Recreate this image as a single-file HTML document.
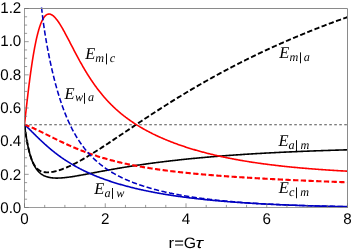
<!DOCTYPE html>
<html><head><meta charset="utf-8"><title>plot</title>
<style>
html,body{margin:0;padding:0;background:#fff;}
body{width:353px;height:251px;position:relative;overflow:hidden;font-family:"Liberation Sans",sans-serif;}
svg{position:absolute;left:0;top:0;display:block;will-change:transform;}
text{text-rendering:geometricPrecision;}
</style>
</head><body>
<svg width="353" height="251" viewBox="0 0 353 251">
<defs><clipPath id="c"><rect x="24.5" y="7.0" width="323.0" height="200.6"/></clipPath></defs>
<line x1="25.1" y1="124.75" x2="347.5" y2="124.75" stroke="#505050" stroke-width="1.1" stroke-dasharray="2.6 2.4" stroke-dashoffset="0.85"/>
<g clip-path="url(#c)" fill="none" stroke-linejoin="round">
<path d="M24.50,124.58 L24.60,125.39 L24.70,126.18 L24.80,126.96 L24.90,127.73 L25.00,128.49 L25.11,129.24 L25.21,129.97 L25.31,130.69 L25.41,131.40 L25.51,132.10 L25.61,132.79 L25.71,133.47 L25.81,134.14 L25.91,134.79 L26.01,135.44 L26.11,136.08 L26.22,136.71 L26.32,137.32 L26.42,137.93 L26.52,138.53 L26.62,139.12 L26.72,139.70 L26.82,140.27 L26.92,140.83 L27.02,141.39 L27.12,141.93 L27.23,142.47 L27.33,143.00 L27.43,143.52 L27.53,144.03 L27.63,144.54 L27.73,145.04 L27.83,145.53 L28.03,146.48 L28.23,147.41 L28.44,148.31 L28.64,149.19 L28.84,150.04 L29.04,150.86 L29.24,151.66 L29.45,152.44 L29.65,153.19 L29.85,153.92 L30.05,154.63 L30.25,155.32 L30.46,155.98 L30.66,156.63 L30.86,157.26 L31.06,157.87 L31.26,158.47 L31.46,159.04 L31.67,159.61 L31.87,160.15 L32.07,160.68 L32.27,161.19 L32.47,161.69 L32.68,162.17 L32.88,162.65 L33.08,163.10 L33.38,163.77 L33.69,164.40 L33.99,165.01 L34.29,165.59 L34.59,166.15 L34.90,166.68 L35.20,167.20 L35.50,167.69 L35.80,168.16 L36.11,168.61 L36.41,169.05 L36.71,169.46 L37.02,169.86 L37.42,170.37 L37.82,170.85 L38.23,171.30 L38.63,171.73 L39.03,172.13 L39.44,172.52 L39.84,172.88 L40.25,173.22 L40.65,173.55 L41.05,173.86 L41.56,174.22 L42.06,174.55 L42.57,174.86 L43.07,175.16 L43.58,175.43 L44.08,175.68 L44.59,175.91 L45.09,176.13 L45.60,176.33 L46.10,176.52 L46.61,176.69 L47.11,176.85 L47.61,177.00 L48.12,177.13 L48.62,177.26 L49.13,177.37 L49.63,177.47 L50.14,177.56 L50.64,177.65 L51.15,177.72 L51.65,177.79 L52.16,177.85 L52.66,177.90 L53.17,177.95 L53.67,177.98 L54.18,178.02 L54.68,178.04 L55.19,178.06 L55.69,178.08 L56.19,178.08 L56.70,178.09 L57.20,178.09 L57.71,178.08 L58.21,178.07 L58.72,178.06 L59.22,178.04 L59.73,178.02 L60.23,177.99 L60.74,177.97 L61.24,177.93 L61.75,177.90 L62.25,177.86 L62.76,177.82 L63.26,177.77 L63.76,177.73 L64.27,177.68 L64.77,177.63 L65.28,177.57 L66.09,177.48 L66.89,177.39 L67.70,177.29 L68.51,177.18 L69.32,177.07 L70.12,176.96 L70.93,176.84 L71.74,176.72 L72.55,176.59 L73.35,176.47 L74.16,176.34 L74.97,176.21 L75.78,176.07 L76.58,175.93 L77.39,175.80 L78.20,175.66 L79.01,175.51 L79.81,175.37 L80.62,175.23 L81.43,175.08 L82.24,174.93 L83.04,174.79 L83.85,174.64 L84.66,174.49 L85.47,174.34 L86.27,174.19 L87.08,174.03 L87.89,173.88 L88.70,173.73 L89.50,173.58 L90.31,173.42 L91.12,173.27 L91.93,173.12 L92.73,172.97 L93.54,172.81 L94.35,172.66 L95.16,172.51 L95.96,172.35 L96.77,172.20 L97.58,172.05 L98.39,171.90 L99.19,171.75 L100.00,171.59 L100.81,171.44 L101.62,171.29 L102.42,171.14 L103.23,170.99 L104.04,170.84 L104.85,170.70 L105.65,170.55 L106.46,170.40 L107.27,170.25 L108.08,170.11 L108.88,169.96 L109.69,169.82 L110.50,169.67 L111.31,169.53 L112.11,169.38 L112.92,169.24 L113.73,169.10 L114.54,168.96 L115.34,168.82 L116.15,168.68 L116.96,168.54 L117.77,168.40 L118.57,168.26 L119.38,168.12 L120.19,167.99 L121.00,167.85 L121.80,167.71 L122.61,167.58 L123.42,167.45 L124.23,167.31 L125.03,167.18 L125.84,167.05 L126.65,166.92 L127.46,166.79 L128.26,166.66 L129.07,166.53 L129.88,166.40 L130.69,166.28 L131.49,166.15 L132.30,166.02 L133.11,165.90 L133.92,165.77 L134.72,165.65 L135.53,165.53 L136.34,165.41 L137.15,165.28 L137.95,165.16 L138.76,165.04 L139.57,164.93 L140.38,164.81 L141.18,164.69 L141.99,164.57 L142.80,164.46 L143.61,164.34 L144.41,164.22 L145.22,164.11 L146.03,164.00 L146.84,163.88 L147.64,163.77 L148.45,163.66 L149.26,163.55 L150.07,163.44 L150.87,163.33 L151.68,163.22 L152.49,163.11 L153.30,163.01 L154.10,162.90 L154.91,162.79 L155.72,162.69 L156.53,162.58 L157.33,162.48 L158.14,162.38 L158.95,162.27 L159.76,162.17 L160.56,162.07 L161.37,161.97 L162.18,161.87 L162.99,161.77 L163.79,161.67 L164.60,161.57 L165.41,161.47 L166.22,161.38 L167.02,161.28 L167.83,161.18 L168.64,161.09 L169.45,160.99 L170.25,160.90 L171.06,160.81 L171.87,160.71 L172.68,160.62 L173.48,160.53 L174.29,160.44 L175.10,160.35 L175.91,160.26 L176.71,160.17 L177.52,160.08 L178.33,159.99 L179.14,159.90 L179.94,159.82 L180.75,159.73 L181.56,159.64 L182.37,159.56 L183.17,159.47 L183.98,159.39 L184.79,159.30 L185.60,159.22 L186.40,159.14 L187.21,159.05 L188.02,158.97 L188.83,158.89 L189.63,158.81 L190.44,158.73 L191.25,158.65 L192.06,158.57 L192.86,158.49 L193.67,158.41 L194.48,158.34 L195.29,158.26 L196.09,158.18 L196.90,158.11 L197.71,158.03 L198.52,157.95 L199.32,157.88 L200.13,157.81 L200.94,157.73 L201.75,157.66 L202.55,157.59 L203.36,157.51 L204.17,157.44 L204.98,157.37 L205.78,157.30 L206.59,157.23 L207.40,157.16 L208.21,157.09 L209.01,157.02 L209.82,156.95 L210.63,156.88 L211.44,156.81 L212.24,156.74 L213.05,156.68 L213.86,156.61 L214.67,156.54 L215.47,156.48 L216.28,156.41 L217.09,156.35 L217.90,156.28 L218.70,156.22 L219.51,156.16 L220.32,156.09 L221.13,156.03 L221.93,155.97 L222.74,155.90 L223.55,155.84 L224.36,155.78 L225.16,155.72 L225.97,155.66 L226.78,155.60 L227.59,155.54 L228.39,155.48 L229.20,155.42 L230.01,155.36 L230.82,155.30 L231.62,155.24 L232.43,155.19 L233.24,155.13 L234.05,155.07 L234.85,155.02 L235.66,154.96 L236.47,154.90 L237.28,154.85 L238.08,154.79 L238.89,154.74 L239.70,154.68 L240.51,154.63 L241.31,154.58 L242.12,154.52 L242.93,154.47 L243.74,154.42 L244.54,154.37 L245.35,154.31 L246.16,154.26 L246.97,154.21 L247.77,154.16 L248.58,154.11 L249.39,154.06 L250.20,154.01 L251.00,153.96 L251.81,153.91 L252.62,153.86 L253.43,153.81 L254.23,153.76 L255.04,153.71 L255.85,153.67 L256.66,153.62 L257.46,153.57 L258.27,153.52 L259.08,153.48 L259.89,153.43 L260.69,153.39 L261.50,153.34 L262.31,153.29 L263.12,153.25 L263.92,153.20 L264.73,153.16 L265.54,153.12 L266.35,153.07 L267.15,153.03 L267.96,152.98 L268.77,152.94 L269.58,152.90 L270.38,152.85 L271.19,152.81 L272.00,152.77 L272.81,152.73 L273.61,152.69 L274.42,152.65 L275.23,152.60 L276.04,152.56 L276.84,152.52 L277.65,152.48 L278.46,152.44 L279.27,152.40 L280.07,152.36 L280.88,152.32 L281.69,152.28 L282.50,152.25 L283.30,152.21 L284.11,152.17 L284.92,152.13 L285.73,152.09 L286.53,152.06 L287.34,152.02 L288.15,151.98 L288.96,151.94 L289.76,151.91 L290.57,151.87 L291.38,151.84 L292.19,151.80 L292.99,151.76 L293.80,151.73 L294.61,151.69 L295.42,151.66 L296.22,151.62 L297.03,151.59 L297.84,151.55 L298.65,151.52 L299.45,151.49 L300.26,151.45 L301.07,151.42 L301.88,151.39 L302.68,151.35 L303.49,151.32 L304.30,151.29 L305.11,151.25 L305.91,151.22 L306.72,151.19 L307.53,151.16 L308.34,151.13 L309.14,151.10 L309.95,151.06 L310.76,151.03 L311.57,151.00 L312.37,150.97 L313.18,150.94 L313.99,150.91 L314.80,150.88 L315.60,150.85 L316.41,150.82 L317.22,150.79 L318.03,150.76 L318.83,150.73 L319.64,150.71 L320.45,150.68 L321.26,150.65 L322.06,150.62 L322.87,150.59 L323.68,150.56 L324.49,150.54 L325.29,150.51 L326.10,150.48 L326.91,150.45 L327.72,150.43 L328.52,150.40 L329.33,150.37 L330.14,150.35 L330.95,150.32 L331.75,150.29 L332.56,150.27 L333.37,150.24 L334.18,150.22 L334.98,150.19 L335.79,150.16 L336.60,150.14 L337.41,150.11 L338.21,150.09 L339.02,150.06 L339.83,150.04 L340.64,150.01 L341.44,149.99 L342.25,149.97 L343.06,149.94 L343.87,149.92 L344.67,149.89 L345.48,149.87 L346.29,149.85 L347.10,149.82 L347.50,149.81" stroke="#000000" stroke-width="1.6"/>
<path d="M24.50,124.58 L24.60,125.39 L24.70,126.18 L24.80,126.96 L24.90,127.73 L25.00,128.49 L25.11,129.24 L25.21,129.97 L25.31,130.69 L25.41,131.40 L25.51,132.10 L25.61,132.79 L25.71,133.47 L25.81,134.14 L25.91,134.79 L26.01,135.44 L26.11,136.08 L26.22,136.71 L26.32,137.32 L26.42,137.93 L26.52,138.53 L26.62,139.12 L26.72,139.70 L26.82,140.27 L26.92,140.83 L27.02,141.39 L27.12,141.93 L27.23,142.47 L27.33,143.00 L27.43,143.52 L27.53,144.03 L27.63,144.54 L27.73,145.04 L27.83,145.53 L28.03,146.48 L28.23,147.41 L28.44,148.31 L28.64,149.19 L28.84,150.04 L29.04,150.86 L29.24,151.66 L29.45,152.44 L29.65,153.18 L29.85,153.91 L30.05,154.61 L30.25,155.29 L30.46,155.94 L30.66,156.58 L30.86,157.20 L31.06,157.80 L31.26,158.38 L31.46,158.94 L31.67,159.48 L31.87,160.01 L32.07,160.52 L32.27,161.01 L32.47,161.48 L32.78,162.16 L33.08,162.80 L33.38,163.39 L33.69,163.96 L33.99,164.49 L34.29,164.98 L34.59,165.45 L34.90,165.89 L35.20,166.31 L35.50,166.71 L35.91,167.22 L36.31,167.70 L36.71,168.14 L37.12,168.55 L37.52,168.93 L37.92,169.28 L38.33,169.60 L38.73,169.90 L39.24,170.24 L39.74,170.54 L40.25,170.82 L40.75,171.06 L41.26,171.28 L41.76,171.47 L42.27,171.64 L42.77,171.79 L43.27,171.91 L43.78,172.02 L44.28,172.12 L44.79,172.19 L45.29,172.25 L45.80,172.30 L46.30,172.33 L46.81,172.35 L47.31,172.36 L47.82,172.36 L48.32,172.35 L48.83,172.32 L49.33,172.29 L49.84,172.25 L50.34,172.20 L50.84,172.14 L51.35,172.08 L51.85,172.00 L52.36,171.92 L52.86,171.83 L53.37,171.74 L53.87,171.64 L54.38,171.53 L54.88,171.42 L55.39,171.30 L55.89,171.17 L56.40,171.04 L56.90,170.91 L57.41,170.77 L57.91,170.62 L58.41,170.47 L58.92,170.32 L59.42,170.16 L59.93,169.99 L60.43,169.82 L60.94,169.65 L61.44,169.48 L61.95,169.30 L62.45,169.11 L62.96,168.92 L63.46,168.73 L63.97,168.54 L64.47,168.34 L65.28,168.01 L66.09,167.68 L66.89,167.33 L67.70,166.98 L68.51,166.63 L69.32,166.26 L70.12,165.89 L70.93,165.51 L71.74,165.12 L72.55,164.73 L73.35,164.33 L74.16,163.92 L74.97,163.51 L75.78,163.10 L76.58,162.67 L77.39,162.25 L78.20,161.81 L79.01,161.37 L79.81,160.93 L80.62,160.48 L81.43,160.03 L82.24,159.58 L83.04,159.12 L83.85,158.65 L84.66,158.18 L85.47,157.71 L86.27,157.23 L87.08,156.76 L87.89,156.27 L88.70,155.79 L89.50,155.30 L90.31,154.81 L91.12,154.31 L91.93,153.81 L92.73,153.31 L93.54,152.81 L94.35,152.30 L95.16,151.80 L95.96,151.29 L96.77,150.77 L97.58,150.26 L98.39,149.74 L99.19,149.23 L100.00,148.71 L100.81,148.18 L101.62,147.66 L102.42,147.14 L103.23,146.61 L104.04,146.08 L104.85,145.55 L105.65,145.02 L106.46,144.49 L107.27,143.96 L108.08,143.42 L108.88,142.89 L109.69,142.35 L110.50,141.82 L111.31,141.28 L112.11,140.74 L112.92,140.20 L113.73,139.66 L114.54,139.12 L115.34,138.58 L116.15,138.04 L116.96,137.50 L117.77,136.96 L118.57,136.41 L119.38,135.87 L120.19,135.33 L121.00,134.79 L121.80,134.24 L122.61,133.70 L123.42,133.16 L124.23,132.61 L125.03,132.07 L125.84,131.53 L126.65,130.98 L127.46,130.44 L128.26,129.90 L129.07,129.35 L129.88,128.81 L130.69,128.27 L131.49,127.73 L132.30,127.18 L133.11,126.64 L133.92,126.10 L134.72,125.56 L135.53,125.02 L136.34,124.48 L137.15,123.94 L137.95,123.40 L138.76,122.86 L139.57,122.33 L140.38,121.79 L141.18,121.25 L141.99,120.71 L142.80,120.18 L143.61,119.64 L144.41,119.11 L145.22,118.57 L146.03,118.04 L146.84,117.51 L147.64,116.98 L148.45,116.45 L149.26,115.92 L150.07,115.39 L150.87,114.86 L151.68,114.33 L152.49,113.80 L153.30,113.28 L154.10,112.75 L154.91,112.23 L155.72,111.70 L156.53,111.18 L157.33,110.66 L158.14,110.14 L158.95,109.62 L159.76,109.10 L160.56,108.58 L161.37,108.06 L162.18,107.54 L162.99,107.03 L163.79,106.51 L164.60,106.00 L165.41,105.49 L166.22,104.98 L167.02,104.47 L167.83,103.96 L168.64,103.45 L169.45,102.94 L170.25,102.43 L171.06,101.93 L171.87,101.42 L172.68,100.92 L173.48,100.42 L174.29,99.92 L175.10,99.42 L175.91,98.92 L176.71,98.42 L177.52,97.92 L178.33,97.43 L179.14,96.93 L179.94,96.44 L180.75,95.94 L181.56,95.45 L182.37,94.96 L183.17,94.47 L183.98,93.98 L184.79,93.50 L185.60,93.01 L186.40,92.53 L187.21,92.04 L188.02,91.56 L188.83,91.08 L189.63,90.60 L190.44,90.12 L191.25,89.64 L192.06,89.16 L192.86,88.69 L193.67,88.21 L194.48,87.74 L195.29,87.26 L196.09,86.79 L196.90,86.32 L197.71,85.85 L198.52,85.39 L199.32,84.92 L200.13,84.45 L200.94,83.99 L201.75,83.52 L202.55,83.06 L203.36,82.60 L204.17,82.14 L204.98,81.68 L205.78,81.22 L206.59,80.77 L207.40,80.31 L208.21,79.86 L209.01,79.40 L209.82,78.95 L210.63,78.50 L211.44,78.05 L212.24,77.60 L213.05,77.15 L213.86,76.71 L214.67,76.26 L215.47,75.82 L216.28,75.38 L217.09,74.93 L217.90,74.49 L218.70,74.05 L219.51,73.62 L220.32,73.18 L221.13,72.74 L221.93,72.31 L222.74,71.87 L223.55,71.44 L224.36,71.01 L225.16,70.58 L225.97,70.15 L226.78,69.72 L227.59,69.29 L228.39,68.87 L229.20,68.44 L230.01,68.02 L230.82,67.59 L231.62,67.17 L232.43,66.75 L233.24,66.33 L234.05,65.91 L234.85,65.50 L235.66,65.08 L236.47,64.67 L237.28,64.25 L238.08,63.84 L238.89,63.43 L239.70,63.02 L240.51,62.61 L241.31,62.20 L242.12,61.79 L242.93,61.38 L243.74,60.98 L244.54,60.58 L245.35,60.17 L246.16,59.77 L246.97,59.37 L247.77,58.97 L248.58,58.57 L249.39,58.17 L250.20,57.78 L251.00,57.38 L251.81,56.99 L252.62,56.59 L253.43,56.20 L254.23,55.81 L255.04,55.42 L255.85,55.03 L256.66,54.64 L257.46,54.25 L258.27,53.87 L259.08,53.48 L259.89,53.10 L260.69,52.72 L261.50,52.33 L262.31,51.95 L263.12,51.57 L263.92,51.19 L264.73,50.82 L265.54,50.44 L266.35,50.06 L267.15,49.69 L267.96,49.32 L268.77,48.94 L269.58,48.57 L270.38,48.20 L271.19,47.83 L272.00,47.46 L272.81,47.09 L273.61,46.73 L274.42,46.36 L275.23,46.00 L276.04,45.63 L276.84,45.27 L277.65,44.91 L278.46,44.55 L279.27,44.19 L280.07,43.83 L280.88,43.47 L281.69,43.12 L282.50,42.76 L283.30,42.41 L284.11,42.05 L284.92,41.70 L285.73,41.35 L286.53,41.00 L287.34,40.65 L288.15,40.30 L288.96,39.95 L289.76,39.60 L290.57,39.25 L291.38,38.91 L292.19,38.57 L292.99,38.22 L293.80,37.88 L294.61,37.54 L295.42,37.20 L296.22,36.86 L297.03,36.52 L297.84,36.18 L298.65,35.84 L299.45,35.51 L300.26,35.17 L301.07,34.84 L301.88,34.51 L302.68,34.17 L303.49,33.84 L304.30,33.51 L305.11,33.18 L305.91,32.85 L306.72,32.53 L307.53,32.20 L308.34,31.87 L309.14,31.55 L309.95,31.22 L310.76,30.90 L311.57,30.58 L312.37,30.26 L313.18,29.94 L313.99,29.62 L314.80,29.30 L315.60,28.98 L316.41,28.66 L317.22,28.35 L318.03,28.03 L318.83,27.72 L319.64,27.40 L320.45,27.09 L321.26,26.78 L322.06,26.47 L322.87,26.16 L323.68,25.85 L324.49,25.54 L325.29,25.23 L326.10,24.93 L326.91,24.62 L327.72,24.32 L328.52,24.01 L329.33,23.71 L330.14,23.41 L330.95,23.10 L331.75,22.80 L332.56,22.50 L333.37,22.20 L334.18,21.90 L334.98,21.61 L335.79,21.31 L336.60,21.01 L337.41,20.72 L338.21,20.43 L339.02,20.13 L339.83,19.84 L340.64,19.55 L341.44,19.26 L342.25,18.97 L343.06,18.68 L343.87,18.39 L344.67,18.10 L345.48,17.81 L346.29,17.53 L347.10,17.24 L347.50,17.10" stroke="#000000" stroke-width="1.9" stroke-dasharray="5.3 2.4"/>
<path d="M24.50,124.58 L24.60,123.65 L24.70,122.71 L24.80,121.78 L24.90,120.84 L25.00,119.91 L25.11,118.99 L25.21,118.06 L25.31,117.13 L25.41,116.21 L25.51,115.29 L25.61,114.37 L25.71,113.45 L25.81,112.54 L25.91,111.63 L26.01,110.72 L26.11,109.81 L26.22,108.91 L26.32,108.01 L26.42,107.11 L26.52,106.21 L26.62,105.32 L26.72,104.43 L26.82,103.55 L26.92,102.66 L27.02,101.78 L27.12,100.91 L27.23,100.03 L27.33,99.16 L27.43,98.30 L27.53,97.43 L27.63,96.58 L27.73,95.72 L27.83,94.87 L27.93,94.02 L28.03,93.18 L28.13,92.34 L28.23,91.50 L28.34,90.67 L28.44,89.84 L28.54,89.01 L28.64,88.19 L28.74,87.38 L28.84,86.57 L28.94,85.76 L29.04,84.95 L29.14,84.15 L29.24,83.36 L29.34,82.57 L29.45,81.78 L29.55,81.00 L29.65,80.22 L29.75,79.45 L29.85,78.68 L29.95,77.92 L30.05,77.16 L30.15,76.40 L30.25,75.65 L30.35,74.91 L30.46,74.17 L30.56,73.43 L30.66,72.70 L30.76,71.97 L30.86,71.25 L30.96,70.53 L31.06,69.82 L31.16,69.11 L31.26,68.41 L31.36,67.71 L31.46,67.02 L31.57,66.33 L31.67,65.64 L31.77,64.96 L31.87,64.29 L31.97,63.62 L32.07,62.96 L32.17,62.30 L32.27,61.64 L32.37,60.99 L32.47,60.35 L32.58,59.71 L32.68,59.07 L32.78,58.44 L32.88,57.82 L32.98,57.20 L33.08,56.58 L33.18,55.97 L33.28,55.37 L33.38,54.77 L33.48,54.17 L33.58,53.58 L33.69,53.00 L33.79,52.41 L33.89,51.84 L33.99,51.27 L34.09,50.70 L34.19,50.14 L34.29,49.59 L34.39,49.03 L34.49,48.49 L34.59,47.95 L34.69,47.41 L34.80,46.88 L34.90,46.35 L35.00,45.83 L35.10,45.32 L35.20,44.80 L35.30,44.30 L35.40,43.79 L35.50,43.30 L35.60,42.81 L35.80,41.84 L36.01,40.88 L36.21,39.95 L36.41,39.04 L36.61,38.15 L36.81,37.27 L37.02,36.42 L37.22,35.58 L37.42,34.76 L37.62,33.96 L37.82,33.18 L38.03,32.41 L38.23,31.67 L38.43,30.94 L38.63,30.23 L38.83,29.54 L39.03,28.87 L39.24,28.21 L39.44,27.57 L39.64,26.95 L39.84,26.34 L40.04,25.75 L40.25,25.18 L40.45,24.62 L40.65,24.08 L40.85,23.56 L41.05,23.05 L41.26,22.56 L41.46,22.09 L41.66,21.63 L41.96,20.97 L42.27,20.34 L42.57,19.75 L42.87,19.19 L43.17,18.66 L43.48,18.16 L43.78,17.70 L44.08,17.26 L44.38,16.86 L44.79,16.37 L45.19,15.93 L45.60,15.53 L46.00,15.19 L46.40,14.90 L46.91,14.59 L47.41,14.35 L47.92,14.19 L48.42,14.08 L48.93,14.04 L49.43,14.06 L49.94,14.13 L50.44,14.26 L50.95,14.44 L51.45,14.67 L51.95,14.95 L52.46,15.27 L52.96,15.64 L53.37,15.97 L53.77,16.32 L54.18,16.70 L54.58,17.10 L54.98,17.52 L55.39,17.96 L55.79,18.43 L56.19,18.92 L56.60,19.42 L57.00,19.95 L57.30,20.35 L57.61,20.76 L57.91,21.19 L58.21,21.62 L58.52,22.06 L58.82,22.51 L59.12,22.97 L59.42,23.43 L59.73,23.90 L60.03,24.38 L60.33,24.87 L60.64,25.36 L60.94,25.86 L61.24,26.36 L61.54,26.87 L61.85,27.39 L62.15,27.91 L62.45,28.43 L62.76,28.96 L63.06,29.50 L63.36,30.04 L63.66,30.58 L63.97,31.13 L64.27,31.68 L64.57,32.23 L64.88,32.79 L65.28,33.53 L65.68,34.29 L66.09,35.04 L66.49,35.80 L66.89,36.57 L67.30,37.33 L67.70,38.10 L68.11,38.87 L68.51,39.65 L68.91,40.43 L69.32,41.20 L69.72,41.98 L70.12,42.76 L70.53,43.54 L70.93,44.32 L71.33,45.10 L71.74,45.88 L72.14,46.66 L72.55,47.44 L72.95,48.21 L73.35,48.99 L73.76,49.76 L74.16,50.54 L74.56,51.31 L74.97,52.08 L75.37,52.84 L75.78,53.61 L76.18,54.37 L76.58,55.13 L76.99,55.88 L77.39,56.64 L77.80,57.39 L78.20,58.13 L78.60,58.88 L79.01,59.62 L79.41,60.35 L79.81,61.09 L80.22,61.81 L80.62,62.54 L81.03,63.26 L81.43,63.98 L81.83,64.69 L82.24,65.40 L82.64,66.10 L83.04,66.80 L83.45,67.50 L83.85,68.19 L84.25,68.88 L84.66,69.56 L85.06,70.24 L85.47,70.91 L85.87,71.58 L86.27,72.25 L86.68,72.91 L87.08,73.56 L87.48,74.21 L87.89,74.86 L88.29,75.50 L88.70,76.13 L89.10,76.77 L89.50,77.39 L89.91,78.02 L90.31,78.63 L90.72,79.25 L91.12,79.86 L91.52,80.46 L91.93,81.06 L92.33,81.65 L92.73,82.24 L93.14,82.83 L93.54,83.41 L93.94,83.98 L94.35,84.55 L94.75,85.12 L95.16,85.68 L95.56,86.24 L95.96,86.79 L96.37,87.34 L96.77,87.88 L97.17,88.42 L97.58,88.96 L97.98,89.49 L98.39,90.02 L98.79,90.54 L99.19,91.06 L99.60,91.57 L100.00,92.08 L100.41,92.58 L100.81,93.08 L101.21,93.58 L101.62,94.07 L102.02,94.56 L102.42,95.05 L102.83,95.53 L103.23,96.00 L103.64,96.47 L104.04,96.94 L104.44,97.41 L104.85,97.87 L105.25,98.33 L105.65,98.78 L106.06,99.23 L106.46,99.67 L106.86,100.12 L107.27,100.55 L107.67,100.99 L108.08,101.42 L108.48,101.85 L108.88,102.27 L109.29,102.69 L109.69,103.11 L110.09,103.52 L110.50,103.93 L110.90,104.34 L111.31,104.74 L111.71,105.15 L112.11,105.54 L112.52,105.94 L112.92,106.33 L113.33,106.72 L113.73,107.10 L114.13,107.48 L114.54,107.86 L114.94,108.24 L115.34,108.61 L115.75,108.98 L116.15,109.35 L116.56,109.71 L116.96,110.07 L117.36,110.43 L117.77,110.78 L118.17,111.14 L118.57,111.49 L118.98,111.84 L119.38,112.18 L119.79,112.52 L120.19,112.86 L120.59,113.20 L121.00,113.53 L121.40,113.87 L121.80,114.19 L122.21,114.52 L122.61,114.85 L123.02,115.17 L123.42,115.49 L123.82,115.81 L124.23,116.12 L124.63,116.43 L125.03,116.74 L125.44,117.05 L125.84,117.36 L126.25,117.66 L126.65,117.96 L127.05,118.26 L127.46,118.56 L127.86,118.86 L128.67,119.44 L129.48,120.02 L130.28,120.59 L131.09,121.15 L131.90,121.70 L132.70,122.24 L133.51,122.78 L134.32,123.31 L135.13,123.84 L135.94,124.35 L136.74,124.87 L137.55,125.37 L138.36,125.87 L139.16,126.36 L139.97,126.84 L140.78,127.32 L141.59,127.79 L142.39,128.26 L143.20,128.72 L144.01,129.18 L144.82,129.63 L145.62,130.08 L146.43,130.52 L147.24,130.95 L148.05,131.38 L148.86,131.80 L149.66,132.22 L150.47,132.64 L151.28,133.05 L152.09,133.45 L152.89,133.86 L153.70,134.25 L154.51,134.64 L155.31,135.03 L156.12,135.42 L156.93,135.80 L157.74,136.17 L158.54,136.54 L159.35,136.91 L160.16,137.27 L160.97,137.63 L161.78,137.99 L162.58,138.34 L163.39,138.69 L164.20,139.03 L165.00,139.37 L165.81,139.71 L166.62,140.05 L167.43,140.38 L168.24,140.70 L169.04,141.03 L169.85,141.35 L170.66,141.67 L171.47,141.98 L172.27,142.29 L173.08,142.60 L173.89,142.91 L174.70,143.21 L175.50,143.51 L176.31,143.80 L177.12,144.10 L177.93,144.39 L178.73,144.67 L179.54,144.96 L180.35,145.24 L181.16,145.52 L181.96,145.80 L182.77,146.07 L183.58,146.34 L184.38,146.61 L185.19,146.88 L186.00,147.14 L186.81,147.40 L187.62,147.66 L188.42,147.92 L189.23,148.17 L190.04,148.42 L190.84,148.67 L191.65,148.92 L192.46,149.16 L193.27,149.40 L194.08,149.64 L194.88,149.88 L195.69,150.12 L196.50,150.35 L197.31,150.58 L198.11,150.81 L198.92,151.04 L199.73,151.26 L200.53,151.48 L201.34,151.70 L202.15,151.92 L202.96,152.14 L203.76,152.35 L204.57,152.57 L205.38,152.78 L206.19,152.99 L206.99,153.19 L207.80,153.40 L208.61,153.60 L209.42,153.80 L210.22,154.00 L211.03,154.20 L211.84,154.39 L212.65,154.59 L213.45,154.78 L214.26,154.97 L215.07,155.16 L215.88,155.35 L216.69,155.53 L217.49,155.71 L218.30,155.90 L219.11,156.08 L219.91,156.25 L220.72,156.43 L221.53,156.61 L222.34,156.78 L223.15,156.95 L223.95,157.12 L224.76,157.29 L225.57,157.46 L226.38,157.63 L227.18,157.79 L227.99,157.95 L228.80,158.11 L229.60,158.27 L230.41,158.43 L231.22,158.59 L232.03,158.75 L232.84,158.90 L233.64,159.05 L234.45,159.20 L235.26,159.35 L236.06,159.50 L236.87,159.65 L237.68,159.80 L238.49,159.94 L239.30,160.09 L240.10,160.23 L240.91,160.37 L241.72,160.51 L242.53,160.65 L243.33,160.78 L244.14,160.92 L244.95,161.05 L245.76,161.19 L246.56,161.32 L247.37,161.45 L248.18,161.58 L248.99,161.71 L249.79,161.84 L250.60,161.96 L251.41,162.09 L252.21,162.21 L253.02,162.34 L253.83,162.46 L254.64,162.58 L255.44,162.70 L256.25,162.82 L257.06,162.93 L257.87,163.05 L258.67,163.17 L259.48,163.28 L260.29,163.39 L261.10,163.51 L261.90,163.62 L262.71,163.73 L263.52,163.84 L264.33,163.95 L265.13,164.05 L265.94,164.16 L266.75,164.27 L267.56,164.37 L268.37,164.47 L269.17,164.58 L269.98,164.68 L270.79,164.78 L271.60,164.88 L272.40,164.98 L273.21,165.08 L274.02,165.17 L274.83,165.27 L275.63,165.37 L276.44,165.46 L277.25,165.55 L278.06,165.65 L278.86,165.74 L279.67,165.83 L280.48,165.92 L281.29,166.01 L282.09,166.10 L282.90,166.19 L283.71,166.27 L284.52,166.36 L285.32,166.45 L286.13,166.53 L286.94,166.62 L287.75,166.70 L288.55,166.78 L289.36,166.86 L290.17,166.94 L290.98,167.03 L291.78,167.10 L292.59,167.18 L293.40,167.26 L294.20,167.34 L295.01,167.42 L295.82,167.49 L296.63,167.57 L297.44,167.64 L298.24,167.72 L299.05,167.79 L299.86,167.86 L300.67,167.94 L301.47,168.01 L302.28,168.08 L303.09,168.15 L303.89,168.22 L304.70,168.29 L305.51,168.36 L306.32,168.42 L307.12,168.49 L307.93,168.56 L308.74,168.62 L309.55,168.69 L310.36,168.75 L311.16,168.82 L311.97,168.88 L312.78,168.94 L313.58,169.01 L314.39,169.07 L315.20,169.13 L316.01,169.19 L316.81,169.25 L317.62,169.31 L318.43,169.37 L319.24,169.43 L320.05,169.49 L320.85,169.54 L321.66,169.60 L322.47,169.66 L323.28,169.71 L324.08,169.77 L324.89,169.82 L325.70,169.88 L326.50,169.93 L327.31,169.99 L328.12,170.04 L328.93,170.09 L329.74,170.14 L330.54,170.20 L331.35,170.25 L332.16,170.30 L332.97,170.35 L333.77,170.40 L334.58,170.45 L335.39,170.50 L336.19,170.54 L337.00,170.59 L337.81,170.64 L338.62,170.69 L339.43,170.73 L340.23,170.78 L341.04,170.83 L341.85,170.87 L342.65,170.92 L343.46,170.96 L344.27,171.01 L345.08,171.05 L345.88,171.09 L346.69,171.14 L347.50,171.18 L347.50,171.18" stroke="#ff0000" stroke-width="1.6"/>
<path d="M24.50,124.58 L24.90,124.95 L25.31,125.33 L25.71,125.70 L26.11,126.08 L26.52,126.46 L26.92,126.85 L27.33,127.23 L27.73,127.62 L28.13,128.01 L28.54,128.40 L28.94,128.80 L29.34,129.19 L29.75,129.59 L30.15,129.98 L30.56,130.38 L30.96,130.78 L31.36,131.18 L31.77,131.58 L32.17,131.98 L32.58,132.37 L32.98,132.77 L33.38,133.17 L33.79,133.57 L34.19,133.97 L34.59,134.37 L35.00,134.77 L35.40,135.17 L35.80,135.56 L36.21,135.96 L36.61,136.36 L37.02,136.75 L37.42,137.14 L37.82,137.54 L38.23,137.93 L38.63,138.32 L39.03,138.71 L39.44,139.09 L39.84,139.48 L40.25,139.86 L40.65,140.25 L41.05,140.63 L41.46,141.01 L41.86,141.39 L42.27,141.76 L42.67,142.14 L43.07,142.51 L43.48,142.89 L43.88,143.26 L44.28,143.62 L44.69,143.99 L45.09,144.36 L45.50,144.72 L45.90,145.08 L46.30,145.44 L46.71,145.80 L47.11,146.15 L47.51,146.51 L47.92,146.86 L48.32,147.21 L48.72,147.55 L49.13,147.90 L49.53,148.24 L49.94,148.59 L50.34,148.93 L50.74,149.26 L51.15,149.60 L51.55,149.93 L51.95,150.26 L52.36,150.59 L52.76,150.92 L53.17,151.25 L53.57,151.57 L53.97,151.89 L54.38,152.21 L54.78,152.53 L55.19,152.84 L55.59,153.16 L55.99,153.47 L56.40,153.78 L56.80,154.09 L57.20,154.39 L57.61,154.70 L58.01,155.00 L58.41,155.30 L58.82,155.59 L59.22,155.89 L59.73,156.26 L60.23,156.62 L60.74,156.98 L61.24,157.34 L61.75,157.69 L62.25,158.05 L62.76,158.40 L63.26,158.74 L63.76,159.09 L64.27,159.43 L64.77,159.76 L65.28,160.10 L66.09,160.63 L66.89,161.15 L67.70,161.67 L68.51,162.18 L69.32,162.68 L70.12,163.17 L70.93,163.66 L71.74,164.15 L72.55,164.62 L73.35,165.09 L74.16,165.56 L74.97,166.01 L75.78,166.46 L76.58,166.91 L77.39,167.35 L78.20,167.78 L79.01,168.21 L79.81,168.64 L80.62,169.05 L81.43,169.46 L82.24,169.87 L83.04,170.27 L83.85,170.67 L84.66,171.06 L85.47,171.45 L86.27,171.83 L87.08,172.21 L87.89,172.58 L88.70,172.95 L89.50,173.31 L90.31,173.67 L91.12,174.02 L91.93,174.37 L92.73,174.72 L93.54,175.06 L94.35,175.40 L95.16,175.73 L95.96,176.06 L96.77,176.39 L97.58,176.71 L98.39,177.03 L99.19,177.34 L100.00,177.65 L100.81,177.96 L101.62,178.26 L102.42,178.56 L103.23,178.86 L104.04,179.15 L104.85,179.44 L105.65,179.73 L106.46,180.01 L107.27,180.29 L108.08,180.57 L108.88,180.85 L109.69,181.12 L110.50,181.38 L111.31,181.65 L112.11,181.91 L112.92,182.17 L113.73,182.43 L114.54,182.68 L115.34,182.93 L116.15,183.18 L116.96,183.43 L117.77,183.67 L118.57,183.91 L119.38,184.15 L120.19,184.38 L121.00,184.62 L121.80,184.85 L122.61,185.07 L123.42,185.30 L124.23,185.52 L125.03,185.74 L125.84,185.96 L126.65,186.18 L127.46,186.39 L128.26,186.60 L129.07,186.81 L129.88,187.02 L130.69,187.23 L131.49,187.43 L132.30,187.63 L133.11,187.83 L133.92,188.03 L134.72,188.22 L135.53,188.42 L136.34,188.61 L137.15,188.80 L137.95,188.98 L138.76,189.17 L139.57,189.35 L140.38,189.54 L141.18,189.72 L141.99,189.89 L142.80,190.07 L143.61,190.24 L144.41,190.42 L145.22,190.59 L146.03,190.76 L146.84,190.93 L147.64,191.09 L148.45,191.26 L149.26,191.42 L150.07,191.58 L150.87,191.74 L151.68,191.90 L152.49,192.06 L153.30,192.21 L154.10,192.36 L154.91,192.52 L155.72,192.67 L156.53,192.82 L157.33,192.96 L158.14,193.11 L158.95,193.26 L159.76,193.40 L160.56,193.54 L161.37,193.68 L162.18,193.82 L162.99,193.96 L163.79,194.10 L164.60,194.23 L165.41,194.37 L166.22,194.50 L167.02,194.63 L167.83,194.76 L168.64,194.89 L169.45,195.02 L170.25,195.14 L171.06,195.27 L171.87,195.39 L172.68,195.52 L173.48,195.64 L174.29,195.76 L175.10,195.88 L175.91,196.00 L176.71,196.11 L177.52,196.23 L178.33,196.34 L179.14,196.46 L179.94,196.57 L180.75,196.68 L181.56,196.79 L182.37,196.90 L183.17,197.01 L183.98,197.12 L184.79,197.22 L185.60,197.33 L186.40,197.43 L187.21,197.54 L188.02,197.64 L188.83,197.74 L189.63,197.84 L190.44,197.94 L191.25,198.04 L192.06,198.14 L192.86,198.23 L193.67,198.33 L194.48,198.42 L195.29,198.52 L196.09,198.61 L196.90,198.70 L197.71,198.79 L198.52,198.89 L199.32,198.97 L200.13,199.06 L200.94,199.15 L201.75,199.24 L202.55,199.33 L203.36,199.41 L204.17,199.50 L204.98,199.58 L205.78,199.66 L206.59,199.74 L207.40,199.83 L208.21,199.91 L209.01,199.99 L209.82,200.07 L210.63,200.14 L211.44,200.22 L212.24,200.30 L213.05,200.37 L213.86,200.45 L214.67,200.53 L215.47,200.60 L216.28,200.67 L217.09,200.75 L217.90,200.82 L218.70,200.89 L219.51,200.96 L220.32,201.03 L221.13,201.10 L221.93,201.17 L222.74,201.24 L223.55,201.30 L224.36,201.37 L225.16,201.44 L225.97,201.50 L226.78,201.57 L227.59,201.63 L228.39,201.69 L229.20,201.76 L230.01,201.82 L230.82,201.88 L231.62,201.94 L232.43,202.00 L233.24,202.06 L234.05,202.12 L234.85,202.18 L235.66,202.24 L236.47,202.30 L237.28,202.36 L238.08,202.41 L238.89,202.47 L239.70,202.52 L240.51,202.58 L241.31,202.63 L242.12,202.69 L242.93,202.74 L243.74,202.80 L244.54,202.85 L245.35,202.90 L246.16,202.95 L246.97,203.00 L247.77,203.05 L248.58,203.10 L249.39,203.15 L250.20,203.20 L251.00,203.25 L251.81,203.30 L252.62,203.35 L253.43,203.40 L254.23,203.44 L255.04,203.49 L255.85,203.54 L256.66,203.58 L257.46,203.63 L258.27,203.67 L259.08,203.72 L259.89,203.76 L260.69,203.80 L261.50,203.85 L262.31,203.89 L263.12,203.93 L263.92,203.97 L264.73,204.01 L265.54,204.06 L266.35,204.10 L267.15,204.14 L267.96,204.18 L268.77,204.22 L269.58,204.26 L270.38,204.29 L271.19,204.33 L272.00,204.37 L272.81,204.41 L273.61,204.45 L274.42,204.48 L275.23,204.52 L276.04,204.56 L276.84,204.59 L277.65,204.63 L278.46,204.66 L279.27,204.70 L280.07,204.73 L280.88,204.77 L281.69,204.80 L282.50,204.84 L283.30,204.87 L284.11,204.90 L284.92,204.94 L285.73,204.97 L286.53,205.00 L287.34,205.03 L288.15,205.06 L288.96,205.09 L289.76,205.13 L290.57,205.16 L291.38,205.19 L292.19,205.22 L292.99,205.25 L293.80,205.28 L294.61,205.31 L295.42,205.33 L296.22,205.36 L297.03,205.39 L297.84,205.42 L298.65,205.45 L299.45,205.48 L300.26,205.50 L301.07,205.53 L301.88,205.56 L302.68,205.58 L303.49,205.61 L304.30,205.64 L305.11,205.66 L305.91,205.69 L306.72,205.71 L307.53,205.74 L308.34,205.76 L309.14,205.79 L309.95,205.81 L310.76,205.84 L311.57,205.86 L312.37,205.88 L313.18,205.91 L313.99,205.93 L314.80,205.95 L315.60,205.98 L316.41,206.00 L317.22,206.02 L318.03,206.04 L318.83,206.07 L319.64,206.09 L320.45,206.11 L321.26,206.13 L322.06,206.15 L322.87,206.17 L323.68,206.19 L324.49,206.21 L325.29,206.23 L326.10,206.26 L326.91,206.28 L327.72,206.30 L328.52,206.31 L329.33,206.33 L330.14,206.35 L330.95,206.37 L331.75,206.39 L332.56,206.41 L333.37,206.43 L334.18,206.45 L334.98,206.47 L335.79,206.48 L336.60,206.50 L337.41,206.52 L338.21,206.54 L339.02,206.55 L339.83,206.57 L340.64,206.59 L341.44,206.61 L342.25,206.62 L343.06,206.64 L343.87,206.65 L344.67,206.67 L345.48,206.69 L346.29,206.70 L347.10,206.72 L347.50,206.73" stroke="#0000c0" stroke-width="1.6"/>
<path d="M24.50,124.59 L25.00,124.76 L25.51,124.94 L26.01,125.13 L26.52,125.32 L27.02,125.51 L27.53,125.71 L28.03,125.91 L28.54,126.11 L29.04,126.32 L29.55,126.52 L30.05,126.74 L30.56,126.95 L31.06,127.17 L31.57,127.39 L32.07,127.61 L32.58,127.83 L33.08,128.06 L33.58,128.28 L34.09,128.51 L34.59,128.75 L35.10,128.98 L35.60,129.21 L36.11,129.45 L36.61,129.69 L37.12,129.93 L37.62,130.17 L38.13,130.41 L38.63,130.65 L39.14,130.90 L39.64,131.14 L40.15,131.39 L40.65,131.63 L41.15,131.88 L41.66,132.13 L42.16,132.38 L42.67,132.63 L43.17,132.88 L43.68,133.13 L44.18,133.38 L44.69,133.63 L45.19,133.88 L45.70,134.13 L46.20,134.39 L46.71,134.64 L47.21,134.89 L47.72,135.14 L48.22,135.40 L48.72,135.65 L49.23,135.90 L49.73,136.15 L50.24,136.40 L50.74,136.65 L51.25,136.91 L51.75,137.16 L52.26,137.41 L52.76,137.66 L53.27,137.91 L53.77,138.16 L54.28,138.40 L54.78,138.65 L55.29,138.90 L55.79,139.15 L56.30,139.40 L56.80,139.64 L57.30,139.89 L57.81,140.13 L58.31,140.38 L58.82,140.62 L59.32,140.86 L59.83,141.10 L60.33,141.34 L60.84,141.58 L61.34,141.82 L61.85,142.06 L62.35,142.30 L62.86,142.54 L63.36,142.77 L63.87,143.01 L64.37,143.24 L64.88,143.48 L65.68,143.85 L66.49,144.22 L67.30,144.58 L68.11,144.94 L68.91,145.31 L69.72,145.66 L70.53,146.02 L71.33,146.37 L72.14,146.72 L72.95,147.07 L73.76,147.41 L74.56,147.75 L75.37,148.09 L76.18,148.43 L76.99,148.76 L77.80,149.09 L78.60,149.42 L79.41,149.74 L80.22,150.06 L81.03,150.38 L81.83,150.70 L82.64,151.01 L83.45,151.32 L84.25,151.62 L85.06,151.93 L85.87,152.23 L86.68,152.53 L87.48,152.82 L88.29,153.11 L89.10,153.40 L89.91,153.69 L90.72,153.97 L91.52,154.25 L92.33,154.53 L93.14,154.80 L93.94,155.07 L94.75,155.34 L95.56,155.61 L96.37,155.87 L97.17,156.13 L97.98,156.39 L98.79,156.64 L99.60,156.89 L100.41,157.14 L101.21,157.39 L102.02,157.63 L102.83,157.88 L103.64,158.12 L104.44,158.35 L105.25,158.58 L106.06,158.82 L106.86,159.04 L107.67,159.27 L108.48,159.49 L109.29,159.72 L110.09,159.93 L110.90,160.15 L111.71,160.36 L112.52,160.58 L113.33,160.79 L114.13,160.99 L114.94,161.20 L115.75,161.40 L116.56,161.60 L117.36,161.80 L118.17,161.99 L118.98,162.19 L119.79,162.38 L120.59,162.57 L121.40,162.75 L122.21,162.94 L123.02,163.12 L123.82,163.30 L124.63,163.48 L125.44,163.66 L126.25,163.84 L127.05,164.01 L127.86,164.18 L128.67,164.35 L129.48,164.52 L130.28,164.68 L131.09,164.85 L131.90,165.01 L132.70,165.17 L133.51,165.33 L134.32,165.49 L135.13,165.64 L135.94,165.79 L136.74,165.95 L137.55,166.10 L138.36,166.25 L139.16,166.39 L139.97,166.54 L140.78,166.68 L141.59,166.82 L142.39,166.97 L143.20,167.10 L144.01,167.24 L144.82,167.38 L145.62,167.51 L146.43,167.65 L147.24,167.78 L148.05,167.91 L148.86,168.04 L149.66,168.17 L150.47,168.30 L151.28,168.42 L152.09,168.55 L152.89,168.67 L153.70,168.79 L154.51,168.91 L155.31,169.03 L156.12,169.15 L156.93,169.27 L157.74,169.38 L158.54,169.50 L159.35,169.61 L160.16,169.72 L160.97,169.83 L161.78,169.94 L162.58,170.05 L163.39,170.16 L164.20,170.27 L165.00,170.38 L165.81,170.48 L166.62,170.58 L167.43,170.69 L168.24,170.79 L169.04,170.89 L169.85,170.99 L170.66,171.09 L171.47,171.19 L172.27,171.29 L173.08,171.38 L173.89,171.48 L174.70,171.57 L175.50,171.67 L176.31,171.76 L177.12,171.85 L177.93,171.94 L178.73,172.03 L179.54,172.12 L180.35,172.21 L181.16,172.30 L181.96,172.39 L182.77,172.48 L183.58,172.56 L184.38,172.65 L185.19,172.73 L186.00,172.82 L186.81,172.90 L187.62,172.98 L188.42,173.06 L189.23,173.14 L190.04,173.22 L190.84,173.30 L191.65,173.38 L192.46,173.46 L193.27,173.54 L194.08,173.62 L194.88,173.69 L195.69,173.77 L196.50,173.85 L197.31,173.92 L198.11,173.99 L198.92,174.07 L199.73,174.14 L200.53,174.21 L201.34,174.29 L202.15,174.36 L202.96,174.43 L203.76,174.50 L204.57,174.57 L205.38,174.64 L206.19,174.71 L206.99,174.77 L207.80,174.84 L208.61,174.91 L209.42,174.98 L210.22,175.04 L211.03,175.11 L211.84,175.17 L212.65,175.24 L213.45,175.30 L214.26,175.37 L215.07,175.43 L215.88,175.49 L216.69,175.56 L217.49,175.62 L218.30,175.68 L219.11,175.74 L219.91,175.80 L220.72,175.87 L221.53,175.93 L222.34,175.99 L223.15,176.05 L223.95,176.10 L224.76,176.16 L225.57,176.22 L226.38,176.28 L227.18,176.34 L227.99,176.39 L228.80,176.45 L229.60,176.51 L230.41,176.56 L231.22,176.62 L232.03,176.68 L232.84,176.73 L233.64,176.79 L234.45,176.84 L235.26,176.89 L236.06,176.95 L236.87,177.00 L237.68,177.05 L238.49,177.11 L239.30,177.16 L240.10,177.21 L240.91,177.26 L241.72,177.32 L242.53,177.37 L243.33,177.42 L244.14,177.47 L244.95,177.52 L245.76,177.57 L246.56,177.62 L247.37,177.67 L248.18,177.72 L248.99,177.77 L249.79,177.82 L250.60,177.87 L251.41,177.91 L252.21,177.96 L253.02,178.01 L253.83,178.06 L254.64,178.11 L255.44,178.15 L256.25,178.20 L257.06,178.25 L257.87,178.29 L258.67,178.34 L259.48,178.38 L260.29,178.43 L261.10,178.48 L261.90,178.52 L262.71,178.57 L263.52,178.61 L264.33,178.65 L265.13,178.70 L265.94,178.74 L266.75,178.79 L267.56,178.83 L268.37,178.87 L269.17,178.92 L269.98,178.96 L270.79,179.00 L271.60,179.04 L272.40,179.09 L273.21,179.13 L274.02,179.17 L274.83,179.21 L275.63,179.25 L276.44,179.30 L277.25,179.34 L278.06,179.38 L278.86,179.42 L279.67,179.46 L280.48,179.50 L281.29,179.54 L282.09,179.58 L282.90,179.62 L283.71,179.66 L284.52,179.70 L285.32,179.74 L286.13,179.78 L286.94,179.82 L287.75,179.85 L288.55,179.89 L289.36,179.93 L290.17,179.97 L290.98,180.01 L291.78,180.05 L292.59,180.08 L293.40,180.12 L294.20,180.16 L295.01,180.20 L295.82,180.23 L296.63,180.27 L297.44,180.31 L298.24,180.34 L299.05,180.38 L299.86,180.42 L300.67,180.45 L301.47,180.49 L302.28,180.52 L303.09,180.56 L303.89,180.59 L304.70,180.63 L305.51,180.66 L306.32,180.70 L307.12,180.73 L307.93,180.77 L308.74,180.80 L309.55,180.84 L310.36,180.87 L311.16,180.91 L311.97,180.94 L312.78,180.97 L313.58,181.01 L314.39,181.04 L315.20,181.08 L316.01,181.11 L316.81,181.14 L317.62,181.17 L318.43,181.21 L319.24,181.24 L320.05,181.27 L320.85,181.31 L321.66,181.34 L322.47,181.37 L323.28,181.40 L324.08,181.43 L324.89,181.47 L325.70,181.50 L326.50,181.53 L327.31,181.56 L328.12,181.59 L328.93,181.62 L329.74,181.65 L330.54,181.69 L331.35,181.72 L332.16,181.75 L332.97,181.78 L333.77,181.81 L334.58,181.84 L335.39,181.87 L336.19,181.90 L337.00,181.93 L337.81,181.96 L338.62,181.99 L339.43,182.02 L340.23,182.05 L341.04,182.08 L341.85,182.11 L342.65,182.14 L343.46,182.16 L344.27,182.19 L345.08,182.22 L345.88,182.25 L346.69,182.28 L347.50,182.31 L347.50,182.31" stroke="#ff0000" stroke-width="2.1" stroke-dasharray="5.3 2.4"/>
<path d="M41.56,7.50 L41.66,8.46 L41.76,9.39 L41.86,10.32 L41.96,11.22 L42.06,12.11 L42.16,12.99 L42.27,13.85 L42.37,14.70 L42.47,15.54 L42.57,16.37 L42.67,17.18 L42.77,17.98 L42.87,18.78 L42.97,19.56 L43.07,20.33 L43.17,21.09 L43.27,21.85 L43.38,22.59 L43.48,23.33 L43.58,24.06 L43.68,24.78 L43.78,25.49 L43.88,26.20 L43.98,26.90 L44.08,27.59 L44.18,28.27 L44.28,28.95 L44.38,29.63 L44.49,30.29 L44.59,30.95 L44.69,31.61 L44.79,32.26 L44.89,32.90 L44.99,33.54 L45.09,34.18 L45.19,34.81 L45.29,35.43 L45.39,36.05 L45.50,36.67 L45.60,37.28 L45.70,37.88 L45.80,38.49 L45.90,39.09 L46.00,39.68 L46.10,40.27 L46.20,40.86 L46.30,41.44 L46.40,42.02 L46.50,42.60 L46.61,43.17 L46.71,43.74 L46.81,44.30 L46.91,44.87 L47.01,45.42 L47.11,45.98 L47.21,46.53 L47.31,47.08 L47.41,47.63 L47.51,48.17 L47.61,48.71 L47.72,49.25 L47.82,49.78 L47.92,50.32 L48.02,50.85 L48.12,51.37 L48.22,51.89 L48.32,52.42 L48.42,52.93 L48.52,53.45 L48.62,53.96 L48.72,54.47 L48.83,54.98 L48.93,55.49 L49.03,55.99 L49.13,56.49 L49.23,56.99 L49.33,57.48 L49.43,57.97 L49.53,58.47 L49.73,59.44 L49.94,60.40 L50.14,61.36 L50.34,62.31 L50.54,63.25 L50.74,64.18 L50.95,65.10 L51.15,66.01 L51.35,66.92 L51.55,67.81 L51.75,68.70 L51.95,69.58 L52.16,70.45 L52.36,71.32 L52.56,72.18 L52.76,73.03 L52.96,73.87 L53.17,74.70 L53.37,75.53 L53.57,76.35 L53.77,77.17 L53.97,77.97 L54.18,78.77 L54.38,79.57 L54.58,80.35 L54.78,81.13 L54.98,81.90 L55.19,82.67 L55.39,83.43 L55.59,84.18 L55.79,84.93 L55.99,85.67 L56.19,86.41 L56.40,87.13 L56.60,87.86 L56.80,88.57 L57.00,89.28 L57.20,89.99 L57.41,90.68 L57.61,91.38 L57.81,92.06 L58.01,92.74 L58.21,93.42 L58.41,94.09 L58.62,94.75 L58.82,95.41 L59.02,96.06 L59.22,96.71 L59.42,97.35 L59.63,97.99 L59.83,98.62 L60.03,99.25 L60.23,99.87 L60.43,100.49 L60.64,101.10 L60.84,101.71 L61.04,102.31 L61.24,102.90 L61.44,103.50 L61.65,104.08 L61.85,104.67 L62.05,105.24 L62.25,105.82 L62.45,106.38 L62.65,106.95 L62.86,107.51 L63.06,108.06 L63.26,108.61 L63.46,109.16 L63.66,109.70 L63.87,110.24 L64.07,110.77 L64.27,111.30 L64.47,111.83 L64.67,112.35 L64.88,112.86 L65.28,113.88 L65.68,114.89 L66.09,115.88 L66.49,116.85 L66.89,117.81 L67.30,118.76 L67.70,119.69 L68.11,120.60 L68.51,121.50 L68.91,122.39 L69.32,123.27 L69.72,124.13 L70.12,124.98 L70.53,125.81 L70.93,126.64 L71.33,127.45 L71.74,128.25 L72.14,129.03 L72.55,129.81 L72.95,130.58 L73.35,131.33 L73.76,132.07 L74.16,132.80 L74.56,133.52 L74.97,134.24 L75.37,134.94 L75.78,135.63 L76.18,136.31 L76.58,136.98 L76.99,137.64 L77.39,138.29 L77.80,138.94 L78.20,139.57 L78.60,140.20 L79.01,140.82 L79.41,141.43 L79.81,142.03 L80.22,142.62 L80.62,143.20 L81.03,143.78 L81.43,144.35 L81.83,144.91 L82.24,145.46 L82.64,146.01 L83.04,146.55 L83.45,147.08 L83.85,147.61 L84.25,148.13 L84.66,148.64 L85.06,149.14 L85.47,149.64 L85.87,150.14 L86.27,150.62 L86.68,151.10 L87.08,151.58 L87.48,152.04 L87.89,152.51 L88.29,152.96 L88.70,153.41 L89.10,153.86 L89.50,154.30 L89.91,154.73 L90.31,155.16 L90.72,155.59 L91.12,156.01 L91.52,156.42 L91.93,156.83 L92.33,157.24 L92.73,157.63 L93.14,158.03 L93.54,158.42 L93.94,158.81 L94.35,159.19 L94.75,159.56 L95.16,159.94 L95.56,160.31 L95.96,160.67 L96.37,161.03 L96.77,161.39 L97.17,161.74 L97.58,162.09 L97.98,162.43 L98.39,162.77 L98.79,163.11 L99.19,163.44 L99.60,163.77 L100.00,164.10 L100.41,164.42 L100.81,164.74 L101.21,165.05 L101.62,165.37 L102.02,165.68 L102.42,165.98 L102.83,166.28 L103.23,166.58 L103.64,166.88 L104.44,167.46 L105.25,168.04 L106.06,168.60 L106.86,169.15 L107.67,169.69 L108.48,170.21 L109.29,170.73 L110.09,171.24 L110.90,171.74 L111.71,172.23 L112.52,172.71 L113.33,173.18 L114.13,173.64 L114.94,174.10 L115.75,174.54 L116.56,174.98 L117.36,175.41 L118.17,175.84 L118.98,176.25 L119.79,176.66 L120.59,177.06 L121.40,177.46 L122.21,177.85 L123.02,178.23 L123.82,178.60 L124.63,178.97 L125.44,179.34 L126.25,179.70 L127.05,180.05 L127.86,180.39 L128.67,180.74 L129.48,181.07 L130.28,181.40 L131.09,181.73 L131.90,182.05 L132.70,182.36 L133.51,182.68 L134.32,182.98 L135.13,183.28 L135.94,183.58 L136.74,183.88 L137.55,184.16 L138.36,184.45 L139.16,184.73 L139.97,185.01 L140.78,185.28 L141.59,185.55 L142.39,185.81 L143.20,186.08 L144.01,186.33 L144.82,186.59 L145.62,186.84 L146.43,187.09 L147.24,187.33 L148.05,187.57 L148.86,187.81 L149.66,188.05 L150.47,188.28 L151.28,188.51 L152.09,188.73 L152.89,188.95 L153.70,189.17 L154.51,189.39 L155.31,189.60 L156.12,189.81 L156.93,190.02 L157.74,190.23 L158.54,190.43 L159.35,190.63 L160.16,190.83 L160.97,191.03 L161.78,191.22 L162.58,191.41 L163.39,191.60 L164.20,191.79 L165.00,191.97 L165.81,192.15 L166.62,192.33 L167.43,192.51 L168.24,192.68 L169.04,192.85 L169.85,193.03 L170.66,193.19 L171.47,193.36 L172.27,193.52 L173.08,193.69 L173.89,193.85 L174.70,194.01 L175.50,194.16 L176.31,194.32 L177.12,194.47 L177.93,194.62 L178.73,194.77 L179.54,194.92 L180.35,195.07 L181.16,195.21 L181.96,195.35 L182.77,195.49 L183.58,195.63 L184.38,195.77 L185.19,195.91 L186.00,196.04 L186.81,196.17 L187.62,196.30 L188.42,196.43 L189.23,196.56 L190.04,196.69 L190.84,196.81 L191.65,196.94 L192.46,197.06 L193.27,197.18 L194.08,197.30 L194.88,197.42 L195.69,197.54 L196.50,197.65 L197.31,197.77 L198.11,197.88 L198.92,197.99 L199.73,198.10 L200.53,198.21 L201.34,198.32 L202.15,198.42 L202.96,198.53 L203.76,198.63 L204.57,198.74 L205.38,198.84 L206.19,198.94 L206.99,199.04 L207.80,199.14 L208.61,199.23 L209.42,199.33 L210.22,199.42 L211.03,199.52 L211.84,199.61 L212.65,199.70 L213.45,199.79 L214.26,199.88 L215.07,199.97 L215.88,200.06 L216.69,200.15 L217.49,200.23 L218.30,200.32 L219.11,200.40 L219.91,200.48 L220.72,200.57 L221.53,200.65 L222.34,200.73 L223.15,200.81 L223.95,200.89 L224.76,200.96 L225.57,201.04 L226.38,201.11 L227.18,201.19 L227.99,201.26 L228.80,201.34 L229.60,201.41 L230.41,201.48 L231.22,201.55 L232.03,201.62 L232.84,201.69 L233.64,201.76 L234.45,201.83 L235.26,201.89 L236.06,201.96 L236.87,202.03 L237.68,202.09 L238.49,202.15 L239.30,202.22 L240.10,202.28 L240.91,202.34 L241.72,202.40 L242.53,202.46 L243.33,202.52 L244.14,202.58 L244.95,202.64 L245.76,202.70 L246.56,202.76 L247.37,202.81 L248.18,202.87 L248.99,202.92 L249.79,202.98 L250.60,203.03 L251.41,203.09 L252.21,203.14 L253.02,203.19 L253.83,203.24 L254.64,203.29 L255.44,203.34 L256.25,203.39 L257.06,203.44 L257.87,203.49 L258.67,203.54 L259.48,203.59 L260.29,203.64 L261.10,203.68 L261.90,203.73 L262.71,203.77 L263.52,203.82 L264.33,203.86 L265.13,203.91 L265.94,203.95 L266.75,204.00 L267.56,204.04 L268.37,204.08 L269.17,204.12 L269.98,204.16 L270.79,204.20 L271.60,204.25 L272.40,204.29 L273.21,204.32 L274.02,204.36 L274.83,204.40 L275.63,204.44 L276.44,204.48 L277.25,204.52 L278.06,204.55 L278.86,204.59 L279.67,204.63 L280.48,204.66 L281.29,204.70 L282.09,204.73 L282.90,204.77 L283.71,204.80 L284.52,204.83 L285.32,204.87 L286.13,204.90 L286.94,204.93 L287.75,204.97 L288.55,205.00 L289.36,205.03 L290.17,205.06 L290.98,205.09 L291.78,205.12 L292.59,205.15 L293.40,205.18 L294.20,205.21 L295.01,205.24 L295.82,205.27 L296.63,205.30 L297.44,205.33 L298.24,205.35 L299.05,205.38 L299.86,205.41 L300.67,205.44 L301.47,205.46 L302.28,205.49 L303.09,205.52 L303.89,205.54 L304.70,205.57 L305.51,205.59 L306.32,205.62 L307.12,205.64 L307.93,205.67 L308.74,205.69 L309.55,205.71 L310.36,205.74 L311.16,205.76 L311.97,205.78 L312.78,205.81 L313.58,205.83 L314.39,205.85 L315.20,205.87 L316.01,205.90 L316.81,205.92 L317.62,205.94 L318.43,205.96 L319.24,205.98 L320.05,206.00 L320.85,206.02 L321.66,206.04 L322.47,206.06 L323.28,206.08 L324.08,206.10 L324.89,206.12 L325.70,206.14 L326.50,206.16 L327.31,206.18 L328.12,206.20 L328.93,206.22 L329.74,206.23 L330.54,206.25 L331.35,206.27 L332.16,206.29 L332.97,206.30 L333.77,206.32 L334.58,206.34 L335.39,206.35 L336.19,206.37 L337.00,206.39 L337.81,206.40 L338.62,206.42 L339.43,206.44 L340.23,206.45 L341.04,206.47 L341.85,206.48 L342.65,206.50 L343.46,206.51 L344.27,206.53 L345.08,206.54 L345.88,206.56 L346.69,206.57 L347.50,206.58 L347.50,206.58" stroke="#0000c0" stroke-width="1.55" stroke-dasharray="5.3 2.4"/>
</g>
<path d="M24.5,8.5H347.5V207.5" fill="none" stroke="#8a8a8a" stroke-width="1"/>
<path d="M24.5,8.0V207.5H348.0" fill="none" stroke="#6e6e6e" stroke-width="0.7"/>
<path d="M24.5,207.50h4.2 M24.5,199.21h2.6 M24.5,190.92h2.6 M24.5,182.62h2.6 M24.5,174.33h4.2 M24.5,166.04h2.6 M24.5,157.75h2.6 M24.5,149.46h2.6 M24.5,141.17h4.2 M24.5,132.88h2.6 M24.5,124.58h2.6 M24.5,116.29h2.6 M24.5,108.00h4.2 M24.5,99.71h2.6 M24.5,91.42h2.6 M24.5,83.12h2.6 M24.5,74.83h4.2 M24.5,66.54h2.6 M24.5,58.25h2.6 M24.5,49.96h2.6 M24.5,41.67h4.2 M24.5,33.37h2.6 M24.5,25.08h2.6 M24.5,16.79h2.6 M24.5,8.50h4.2 M24.50,207.5v-4.2 M44.69,207.5v-2.6 M64.88,207.5v-2.6 M85.06,207.5v-2.6 M105.25,207.5v-4.2 M125.44,207.5v-2.6 M145.62,207.5v-2.6 M165.81,207.5v-2.6 M186.00,207.5v-4.2 M206.19,207.5v-2.6 M226.38,207.5v-2.6 M246.56,207.5v-2.6 M266.75,207.5v-4.2 M286.94,207.5v-2.6 M307.12,207.5v-2.6 M327.31,207.5v-2.6 M347.50,207.5v-4.2" stroke="#707070" stroke-width="0.7" fill="none"/>
<g font-family="Liberation Sans, sans-serif" font-size="15.4" fill="#000">
<text transform="translate(21.3,213.00) scale(0.985,1)" text-anchor="end">0.0</text>
<text transform="translate(21.3,179.66) scale(0.985,1)" text-anchor="end">0.2</text>
<text transform="translate(21.3,146.33) scale(0.985,1)" text-anchor="end">0.4</text>
<text transform="translate(21.3,112.99) scale(0.985,1)" text-anchor="end">0.6</text>
<text transform="translate(21.3,79.65) scale(0.985,1)" text-anchor="end">0.8</text>
<text transform="translate(21.3,46.32) scale(0.985,1)" text-anchor="end">1.0</text>
<text transform="translate(21.3,12.98) scale(0.985,1)" text-anchor="end">1.2</text>
<text transform="translate(24.40,224.3) scale(0.985,1)" text-anchor="middle">0</text>
<text transform="translate(105.15,224.3) scale(0.985,1)" text-anchor="middle">2</text>
<text transform="translate(185.90,224.3) scale(0.985,1)" text-anchor="middle">4</text>
<text transform="translate(266.65,224.3) scale(0.985,1)" text-anchor="middle">6</text>
<text transform="translate(347.40,224.3) scale(0.985,1)" text-anchor="middle">8</text>
<text transform="translate(168.6,247.9) scale(1.1,1)" font-size="15.1">r</text>
<text transform="translate(174.3,247.9) scale(1.1,1)" font-size="15.1">=</text>
<text transform="translate(183.7,247.9) scale(1.05,1)" font-size="15.1">G</text>
<text transform="translate(195.4,247.9) scale(1.32,1)" font-size="15.1" font-style="italic">τ</text>
</g>
<g font-family="Liberation Serif, serif" fill="#000">
<text x="85.3" y="59.1" font-style="italic" font-size="16.5">E</text><text x="95.2" y="62.0" font-style="italic" font-size="12.2">m</text><line x1="106.50" y1="53.50" x2="106.50" y2="64.40" stroke="#000" stroke-width="0.95"/><text x="109.7" y="62.0" font-style="italic" font-size="12.2">c</text>
<text x="64.5" y="98.5" font-style="italic" font-size="16.5">E</text><text x="74.9" y="101.4" font-style="italic" font-size="12.2">w</text><line x1="84.50" y1="92.90" x2="84.50" y2="103.80" stroke="#000" stroke-width="0.95"/><text x="88.0" y="101.4" font-style="italic" font-size="12.2">a</text>
<text x="279.2" y="58.0" font-style="italic" font-size="16.5">E</text><text x="289.4" y="60.9" font-style="italic" font-size="12.2">m</text><line x1="300.50" y1="52.40" x2="300.50" y2="63.30" stroke="#000" stroke-width="0.95"/><text x="303.7" y="60.9" font-style="italic" font-size="12.2">a</text>
<text x="278.4" y="145.8" font-style="italic" font-size="16.5">E</text><text x="288.6" y="148.7" font-style="italic" font-size="12.2">a</text><line x1="296.50" y1="140.20" x2="296.50" y2="151.10" stroke="#000" stroke-width="0.95"/><text x="300.5" y="148.7" font-style="italic" font-size="12.2">m</text>
<text x="278.7" y="193.0" font-style="italic" font-size="16.5">E</text><text x="288.9" y="195.9" font-style="italic" font-size="12.2">c</text><line x1="296.50" y1="187.40" x2="296.50" y2="198.30" stroke="#000" stroke-width="0.95"/><text x="300.2" y="195.9" font-style="italic" font-size="12.2">m</text>
<text x="94.2" y="193.6" font-style="italic" font-size="16.5">E</text><text x="104.4" y="196.5" font-style="italic" font-size="12.2">a</text><line x1="112.50" y1="188.00" x2="112.50" y2="198.90" stroke="#000" stroke-width="0.95"/><text x="116.3" y="196.5" font-style="italic" font-size="12.2">w</text>
</g>
</svg>
</body></html>
